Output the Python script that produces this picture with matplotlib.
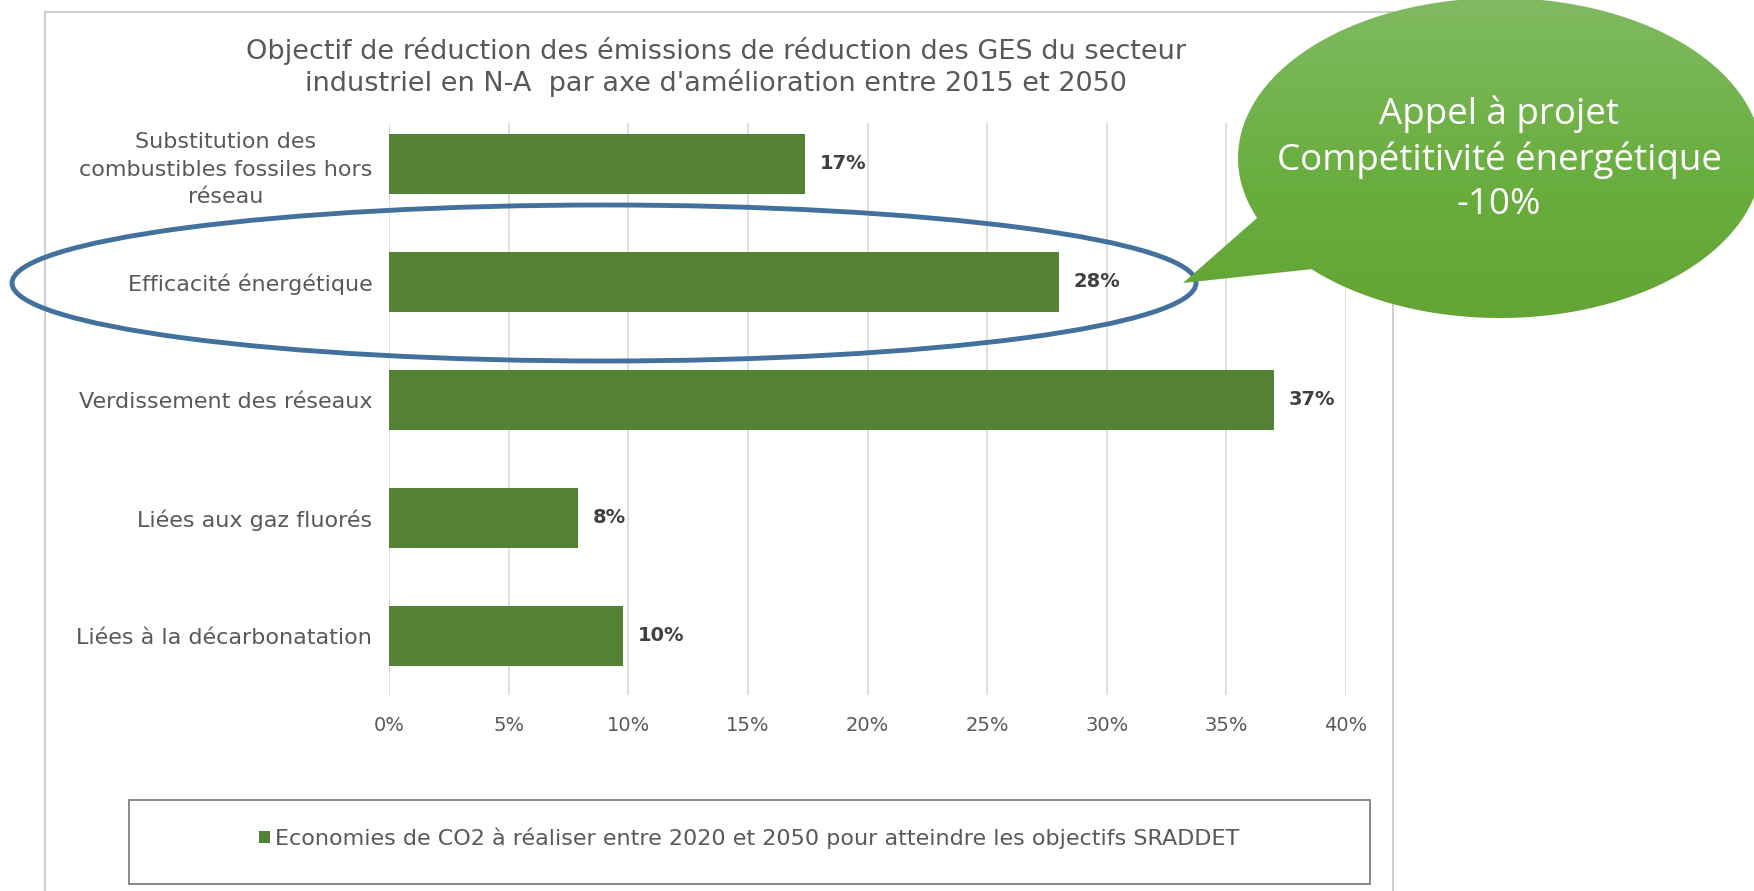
"""Bar chart: objectifs de réduction des GES du secteur industriel en N-A."""
import matplotlib
matplotlib.use("Agg")
import matplotlib.pyplot as plt
import matplotlib.patches as mpatches
import numpy as np

categories = [
    "Substitution des\ncombustibles fossiles hors\nréseau",
    "Efficacité énergétique",
    "Verdissement des réseaux",
    "Liées aux gaz fluorés",
    "Liées à la décarbonatation",
]
values = [0.174, 0.28, 0.37, 0.079, 0.098]
xticks = [0, 0.05, 0.10, 0.15, 0.20, 0.25, 0.30, 0.35, 0.40]
title = ("Objectif de réduction des émissions de réduction des GES du secteur\n"
         "industriel en N-A  par axe d'amélioration entre 2015 et 2050")
legend_label = ("Economies de CO2 à réaliser entre 2020 et 2050 "
                "pour atteindre les objectifs SRADDET")
bubble_text = "Appel à projet\nCompétitivité énergétique\n-10%"

W, H = 1754, 891
BAR = "#548235"
GREY = "#595959"


def fx(px):
    return px / W


def fy(py):
    return 1 - py / H


plt.rcParams["font.family"] = ["DejaVu Sans"]
fig = plt.figure(figsize=(W / 100, H / 100), dpi=100)

# outer chart frame
fig.add_artist(mpatches.Rectangle((fx(45), fy(895)), fx(1393 - 45), (895 - 12) / H,
                                  transform=fig.transFigure, fill=False,
                                  edgecolor="#d0d0d0", linewidth=1.5))

ax = fig.add_axes([fx(389), fy(695), fx(1346 - 389), (695 - 123) / H])
y = np.arange(len(categories))
bars = ax.barh(y, values, height=0.51, color=BAR, label=legend_label, zorder=2)
ax.set_ylim(len(categories) - 0.5, -0.347)
ax.set_xlim(0, 0.40)
ax.set_xticks(xticks)
ax.set_xticklabels(["{:.0%}".format(t) for t in xticks], color=GREY, fontsize=14)
ax.set_yticks(y)
ax.set_yticklabels(categories, color=GREY, fontsize=16, linespacing=1.45,
                   multialignment="center")
ax.tick_params(axis="y", length=0, pad=12)
ax.tick_params(axis="x", length=0, pad=15)
ax.grid(axis="x", color="#d9d9d9", linewidth=1.2, zorder=0)
for s in ax.spines.values():
    s.set_visible(False)

for rect, v in zip(bars, values):
    ax.text(v + 0.006, rect.get_y() + rect.get_height() / 2, "{:.0%}".format(v),
            va="center", ha="left", fontsize=14, fontweight="bold", color="#404040")

fig.text(fx(716), fy(67), title, ha="center", va="center", fontsize=19.5,
         color=GREY, linespacing=1.2)

# legend with its own box
fig.add_artist(mpatches.Rectangle((fx(129), fy(884)), fx(1370 - 129), (884 - 800) / H,
                                  transform=fig.transFigure, fill=False,
                                  edgecolor="#808080", linewidth=1.3))
fig.legend(handles=[bars], labels=[legend_label], loc="center",
           bbox_to_anchor=(fx(749), fy(838)), frameon=False, fontsize=16,
           labelcolor=GREY, handlelength=0.5, handleheight=0.5, handletextpad=0.25)

# blue ellipse around "Efficacité énergétique"
fig.add_artist(mpatches.Ellipse((fx(604), fy(283)), fx(1184), 156 / H,
                                transform=fig.transFigure, fill=False,
                                edgecolor="#41719c", linewidth=3.5))

# green speech bubble
cx, cy, rx, ry = 1500, 158, 262, 160
tip = (1183, 283)
ang1, ang2 = np.deg2rad(202), np.deg2rad(224)
t = np.linspace(0, 2 * np.pi, 721)
verts = []
added = False
for a in t:
    if ang1 < a < ang2:
        if not added:
            verts.append(tip)
            added = True
        continue
    verts.append((cx + rx * np.cos(a), cy - ry * np.sin(a)))
verts = [(fx(px), fy(py)) for px, py in verts]
bubble = mpatches.Polygon(verts, closed=True, transform=fig.transFigure,
                          facecolor="none", edgecolor="none")
fig.add_artist(bubble)
grad = np.linspace(0, 1, 256).reshape(-1, 1)
cmap = matplotlib.colors.LinearSegmentedColormap.from_list(
    "g", ["#80ba62", "#6caf42", "#62a534"])
gax = fig.add_axes([0, 0, 1, 1], zorder=5)
gax.axis("off")
im = gax.imshow(grad, cmap=cmap, aspect="auto", extent=(0, 1, fy(320), fy(-2)),
                origin="upper")
gax.set_xlim(0, 1)
gax.set_ylim(0, 1)
im.set_clip_path(bubble)
gax.text(fx(1499), fy(159), bubble_text, ha="center", va="center",
         fontsize=26.5, color="white", family=["Open Sans", "DejaVu Sans"],
         linespacing=1.3, transform=fig.transFigure)

fig.savefig("out.png", dpi=100)
